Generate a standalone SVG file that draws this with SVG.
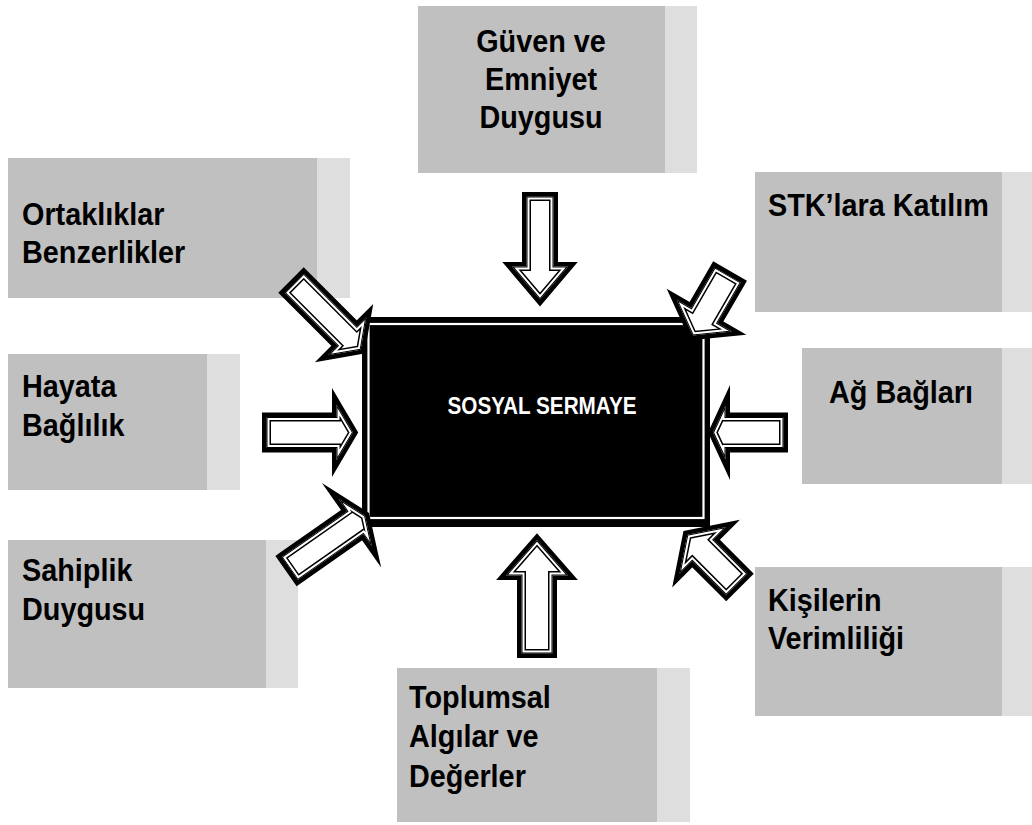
<svg xmlns="http://www.w3.org/2000/svg" xmlns:xlink="http://www.w3.org/1999/xlink" width="1032" height="825" viewBox="0 0 1032 825">
<style>
.bg{fill:#C0C0C0}
.st{fill:#DEDEDE}
.t{font-family:"Liberation Sans",Arial,sans-serif;font-weight:bold;font-size:32px;fill:#000}
.ct{font-family:"Liberation Sans",Arial,sans-serif;font-weight:bold;font-size:23px;fill:#fff}
.ao{fill:#fff;stroke:#000;stroke-width:9;stroke-linejoin:miter;stroke-miterlimit:8}
.aw{fill:none;stroke:#fff;stroke-width:6;stroke-linejoin:miter;stroke-miterlimit:8}
.at{fill:none;stroke:#000;stroke-width:2;stroke-linejoin:miter;stroke-miterlimit:8}
</style>
<defs>
<path id="p-top" d="M0,-13.5 H70 V-28 L103,0 L70,28 V13.5 H0 Z"/>
<path id="p-bot" d="M0,-15.5 H78 V-31 L113.5,0 L78,31 V15.5 H0 Z"/>
<path id="p-lft" d="M0,-15.5 H70 V-28 L86.5,0 L70,28 V15.5 H0 Z"/>
<path id="p-rgt" d="M0,-15.5 H58 V-27 L70.5,0 L58,27 V15.5 H0 Z"/>
<path id="p-tl" d="M0,-13.5 H75 V-27 L94,0 L75,27 V13.5 H0 Z"/>
<path id="p-bl" d="M0,-14 H80 V-29 L92,0 L80,29 V14 H0 Z"/>
<path id="p-tr" d="M0,-15 H47 V-32 L70,0 L47,32 V15 H0 Z"/>
<path id="p-br" d="M0,-15 H48 V-33 L70,0 L48,33 V15 H0 Z"/>
<clipPath id="c-top"><use xlink:href="#p-top"/></clipPath>
<clipPath id="c-bot"><use xlink:href="#p-bot"/></clipPath>
<clipPath id="c-lft"><use xlink:href="#p-lft"/></clipPath>
<clipPath id="c-rgt"><use xlink:href="#p-rgt"/></clipPath>
<clipPath id="c-tl"><use xlink:href="#p-tl"/></clipPath>
<clipPath id="c-bl"><use xlink:href="#p-bl"/></clipPath>
<clipPath id="c-tr"><use xlink:href="#p-tr"/></clipPath>
<clipPath id="c-br"><use xlink:href="#p-br"/></clipPath>
</defs>
<rect width="1032" height="825" fill="#fff"/>

<g id="node-guven">
<rect class="bg" x="418" y="6" width="247" height="167"/>
<rect class="st" x="665" y="6" width="32" height="167"/>
<text class="t" text-anchor="middle" transform="translate(541,52) scale(0.9,1)"><tspan x="0" y="0">Güven ve</tspan><tspan x="0" y="38">Emniyet</tspan><tspan x="0" y="76">Duygusu</tspan></text>
</g>

<g id="node-ortak">
<rect class="bg" x="8" y="158" width="309" height="140"/>
<rect class="st" x="317" y="158" width="33" height="140"/>
<text class="t" transform="translate(22,225) scale(0.9,1)"><tspan x="0" y="0">Ortaklıklar</tspan><tspan x="0" y="38">Benzerlikler</tspan></text>
</g>

<g id="node-stk">
<rect class="bg" x="755" y="172" width="247" height="140"/>
<rect class="st" x="1002" y="172" width="30" height="140"/>
<text class="t" transform="translate(768,216) scale(0.9,1)">STK’lara Katılım</text>
</g>

<g id="node-hayata">
<rect class="bg" x="8" y="354" width="199" height="136"/>
<rect class="st" x="207" y="354" width="33" height="136"/>
<text class="t" transform="translate(22,397) scale(0.9,1)"><tspan x="0" y="0">Hayata</tspan><tspan x="0" y="39">Bağlılık</tspan></text>
</g>

<g id="node-ag">
<rect class="bg" x="802" y="348" width="200" height="136"/>
<rect class="st" x="1002" y="348" width="30" height="136"/>
<text class="t" text-anchor="middle" transform="translate(901,403) scale(0.9,1)">Ağ Bağları</text>
</g>

<g id="node-sahip">
<rect class="bg" x="8" y="540" width="258" height="148"/>
<rect class="st" x="266" y="540" width="32" height="148"/>
<text class="t" transform="translate(22,581) scale(0.9,1)"><tspan x="0" y="0">Sahiplik</tspan><tspan x="0" y="39">Duygusu</tspan></text>
</g>

<g id="node-kisi">
<rect class="bg" x="755" y="567" width="247" height="149"/>
<rect class="st" x="1002" y="567" width="30" height="149"/>
<text class="t" transform="translate(768,611) scale(0.9,1)"><tspan x="0" y="0">Kişilerin</tspan><tspan x="0" y="38">Verimliliği</tspan></text>
</g>

<g id="node-toplum">
<rect class="bg" x="397" y="668" width="260" height="154"/>
<rect class="st" x="657" y="668" width="33" height="154"/>
<text class="t" transform="translate(409,708) scale(0.9,1)"><tspan x="0" y="0">Toplumsal</tspan><tspan x="0" y="39.5">Algılar ve</tspan><tspan x="0" y="79">Değerler</tspan></text>
</g>

<g id="node-center">
<rect x="362" y="317" width="348" height="210" fill="#000"/>
<rect x="368.5" y="324" width="335" height="194" fill="none" stroke="#fff" stroke-width="2.2"/>
<text class="ct" text-anchor="middle" transform="translate(542,414) scale(0.9,1)">SOSYAL SERMAYE</text>
</g>

<g id="connectors">
<g transform="translate(540,196.5) rotate(90)"><use xlink:href="#p-top" class="ao"/><g clip-path="url(#c-top)"><use xlink:href="#p-top" class="aw"/><use xlink:href="#p-top" class="at"/></g></g>
<g transform="translate(537,653.5) rotate(-90)"><use xlink:href="#p-bot" class="ao"/><g clip-path="url(#c-bot)"><use xlink:href="#p-bot" class="aw"/><use xlink:href="#p-bot" class="at"/></g></g>
<g transform="translate(266.5,432.5)"><use xlink:href="#p-lft" class="ao"/><g clip-path="url(#c-lft)"><use xlink:href="#p-lft" class="aw"/><use xlink:href="#p-lft" class="at"/></g></g>
<g transform="translate(783.5,432.5) rotate(180)"><use xlink:href="#p-rgt" class="ao"/><g clip-path="url(#c-rgt)"><use xlink:href="#p-rgt" class="aw"/><use xlink:href="#p-rgt" class="at"/></g></g>
<g transform="translate(294.2,283.2) rotate(45)"><use xlink:href="#p-tl" class="ao"/><g clip-path="url(#c-tl)"><use xlink:href="#p-tl" class="aw"/><use xlink:href="#p-tl" class="at"/></g></g>
<g transform="translate(289.7,568.5) rotate(-35)"><use xlink:href="#p-bl" class="ao"/><g clip-path="url(#c-bl)"><use xlink:href="#p-bl" class="aw"/><use xlink:href="#p-bl" class="at"/></g></g>
<g transform="translate(727.8,274.9) rotate(120)"><use xlink:href="#p-tr" class="ao"/><g clip-path="url(#c-tr)"><use xlink:href="#p-tr" class="aw"/><use xlink:href="#p-tr" class="at"/></g></g>
<g transform="translate(736.8,584.3) rotate(225)"><use xlink:href="#p-br" class="ao"/><g clip-path="url(#c-br)"><use xlink:href="#p-br" class="aw"/><use xlink:href="#p-br" class="at"/></g></g>
</g>
</svg>
